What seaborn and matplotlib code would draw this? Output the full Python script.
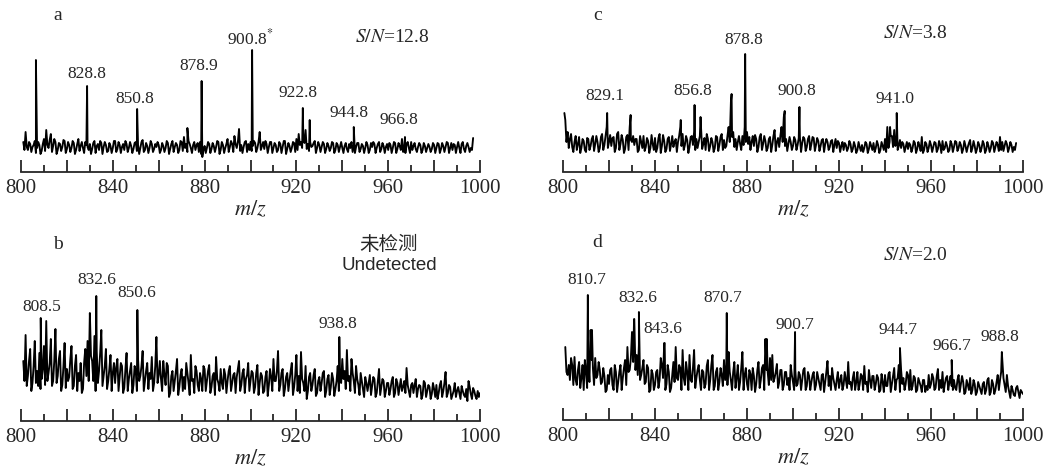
import numpy as np
import pandas as pd
import seaborn as sns
import matplotlib.pyplot as plt
from matplotlib.ticker import MultipleLocator, FuncFormatter

sns.set_style('white')
plt.rcParams['font.family'] = ['Liberation Serif', 'DejaVu Serif']
plt.rcParams['mathtext.fontset'] = 'stix'

# noise (height above axis)
# noise_* lists: samples at 801, 802, ...; *_mid lists: samples at 801.5, 802.5, ...
noise_a = [30, 40, 22, 28, 25, 31, 24, 27, 21, 33,
           42, 24, 38, 26, 30, 22, 28, 25, 31, 23,
           27, 24, 29, 22, 33, 26, 24, 30, 25, 28,
           23, 31, 26, 22, 29, 25, 27, 21, 26, 24,
           31, 23, 27, 25, 22, 28, 24, 26, 23, 30,
           27, 24, 32, 22, 26, 24, 28, 23, 25, 27,
           22, 26, 24, 29, 23, 31, 25, 27, 22, 30,
           35, 28, 31, 24, 27, 22, 29, 30, 15, 26,
           24, 28, 23, 26, 25, 30, 22, 27, 24, 33,
           25, 28, 36, 24, 43, 27, 25, 31, 28, 30,
           26, 29, 24, 40, 26, 23, 28, 25, 30, 24,
           27, 22, 28, 25, 31, 23, 26, 24, 29, 33,
           38, 30, 35, 42, 28, 30, 26, 31, 24, 27,
           25, 28, 23, 26, 24, 29, 22, 27, 25, 24,
           26, 23, 28, 30, 27, 25, 29, 23, 26, 24,
           27, 22, 25, 28, 24, 30, 23, 26, 25, 22,
           27, 24, 29, 23, 26, 33, 25, 28, 24, 30,
           26, 23, 25, 27, 22, 26, 24, 25, 23, 27,
           24, 28, 23, 26, 25, 29, 24, 22, 27, 25,
           24, 28, 23, 26, 25, 24, 34]
noise_a_mid = [22, 25, 30, 20, 27, 19, 30, 18, 28, 21,
               27, 32, 20, 33, 18, 29, 21, 32, 19, 30,
               20, 31, 18, 28, 21, 30, 19, 27, 22, 18,
               29, 19, 28, 31, 18, 30, 20, 29, 19, 31,
               20, 30, 19, 28, 31, 20, 30, 19, 29, 21,
               18, 30, 20, 29, 19, 31, 20, 28, 30, 19,
               29, 20, 31, 18, 28, 20, 29, 19, 31, 21,
               24, 20, 28, 19, 30, 27, 20, 18, 22, 19,
               30, 19, 29, 20, 31, 18, 30, 19, 28, 20,
               31, 20, 28, 30, 21, 19, 30, 20, 22, 21,
               31, 20, 30, 22, 30, 31, 19, 30, 19, 29,
               20, 30, 19, 31, 18, 29, 20, 30, 20, 22,
               27, 24, 29, 23, 21, 25, 29, 19, 30, 20,
               30, 19, 29, 21, 30, 19, 29, 20, 30, 19,
               29, 20, 24, 20, 19, 29, 20, 28, 19, 30,
               19, 29, 30, 19, 28, 20, 29, 19, 28, 29,
               19, 30, 19, 29, 22, 20, 19, 30, 19, 22,
               29, 20, 29, 19, 29, 20, 28, 20, 29, 19,
               29, 19, 29, 20, 30, 19, 29, 28, 19, 30,
               19, 30, 20, 29, 20, 22]
peak_mz_a = [806.5, 828.8, 850.6, 872.5, 878.7, 900.7, 922.8, 925.8, 945.0, 967.3]
peak_int_a = [112, 86, 63, 44, 91, 122, 64, 52, 45, 35]

noise_b = [60, 86, 45, 72, 38, 80, 50, 68, 42, 75,
           100, 48, 82, 40, 92, 45, 70, 36, 78, 52,
           44, 75, 35, 66, 48, 58, 32, 72, 80, 108,
           60, 85, 70, 50, 91, 45, 72, 40, 66, 48,
           38, 62, 44, 55, 33, 68, 42, 58, 36, 50,
           62, 45, 70, 40, 58, 48, 64, 38, 84, 46,
           42, 60, 36, 55, 28, 50, 40, 62, 34, 52,
           44, 58, 38, 66, 42, 55, 36, 48, 30, 52,
           40, 56, 34, 48, 64, 38, 52, 32, 46, 40,
           55, 38, 48, 44, 60, 36, 52, 42, 58, 40,
           48, 34, 56, 38, 45, 30, 50, 36, 44, 62,
           40, 70, 36, 52, 32, 48, 40, 58, 34, 66,
           45, 69, 38, 55, 30, 48, 36, 52, 28, 44,
           38, 50, 30, 46, 34, 42, 32, 55, 48, 62,
           50, 71, 45, 62, 40, 55, 36, 48, 32, 44,
           30, 46, 35, 42, 28, 52, 34, 40, 30, 38,
           32, 44, 28, 38, 34, 30, 40, 53, 30, 36,
           28, 42, 32, 35, 26, 38, 30, 34, 27, 32,
           36, 28, 40, 30, 49, 28, 34, 26, 38, 30,
           28, 35, 26, 32, 40, 27, 33, 25, 30, 28]
noise_b_mid = [40, 35, 60, 30, 55, 38, 35, 32, 52, 36,
               40, 58, 35, 60, 38, 62, 30, 55, 33, 40,
               62, 32, 55, 30, 40, 28, 58, 45, 40, 65,
               40, 30, 38, 68, 35, 55, 32, 52, 30, 58,
               54, 30, 58, 28, 52, 30, 50, 28, 55, 30,
               40, 55, 30, 50, 32, 42, 30, 55, 38, 60,
               30, 46, 58, 24, 45, 30, 50, 26, 46, 30,
               32, 48, 26, 40, 28, 50, 30, 42, 55, 30,
               50, 28, 45, 26, 42, 30, 38, 52, 28, 50,
               30, 46, 28, 52, 30, 48, 28, 46, 30, 50,
               28, 48, 26, 48, 28, 44, 25, 52, 30, 40,
               50, 30, 48, 25, 44, 30, 50, 26, 46, 30,
               28, 42, 30, 22, 44, 30, 46, 25, 40, 30,
               48, 24, 42, 26, 48, 25, 40, 30, 38, 42,
               32, 40, 30, 48, 28, 42, 26, 40, 24, 38,
               38, 26, 44, 24, 40, 26, 42, 24, 38, 26,
               40, 24, 42, 26, 42, 34, 28, 36, 24, 38,
               36, 24, 36, 22, 40, 24, 36, 22, 38, 24,
               22, 36, 24, 38, 24, 36, 22, 30, 24, 34,
               22, 30, 24, 20, 34, 22, 30, 22, 24]
peak_mz_b = [808.6, 832.8, 850.7, 938.7]
peak_int_b = [103, 125, 111, 84]

noise_c = [52, 40, 33, 25, 30, 22, 35, 24, 31, 20,
           33, 26, 36, 28, 30, 24, 38, 27, 45, 30,
           26, 35, 24, 40, 28, 32, 23, 37, 45, 30,
           27, 33, 22, 30, 36, 25, 31, 24, 28, 34,
           24, 38, 26, 31, 23, 35, 28, 25, 33, 30,
           45, 38, 27, 32, 25, 36, 40, 33, 30, 45,
           28, 22, 33, 26, 30, 24, 35, 27, 38, 32,
           26, 45, 70, 40, 33, 30, 28, 36, 45, 40,
           35, 30, 26, 33, 25, 38, 28, 31, 24, 35,
           27, 42, 30, 25, 45, 55, 33, 28, 30, 26,
           32, 27, 35, 29, 33, 25, 36, 28, 34, 27,
           31, 26, 33, 28, 30, 25, 32, 27, 24, 29,
           26, 22, 27, 24, 28, 23, 26, 22, 25, 27,
           24, 28, 23, 26, 29, 24, 27, 22, 26, 33,
           45, 30, 36, 42, 30, 26, 24, 28, 25, 23,
           27, 24, 29, 23, 26, 35, 22, 28, 24, 27,
           25, 29, 23, 27, 31, 24, 26, 22, 28, 25,
           30, 24, 27, 23, 26, 25, 32, 24, 26, 23,
           27, 24, 28, 22, 26, 24, 29, 25, 27, 35,
           30, 26, 28, 24, 27, 25, 29]
noise_c_mid = [30, 24, 38, 20, 36, 28, 19, 33, 22, 34,
               22, 33, 21, 36, 20, 35, 22, 36, 24, 37,
               34, 20, 38, 22, 37, 19, 35, 22, 32, 36,
               33, 20, 36, 24, 21, 34, 19, 37, 22, 20,
               34, 19, 37, 20, 33, 21, 36, 30, 20, 36,
               26, 22, 36, 19, 35, 27, 22, 24, 36, 23,
               34, 38, 21, 34, 20, 36, 21, 35, 22, 24,
               36, 30, 35, 25, 22, 36, 22, 27, 30, 28,
               22, 36, 37, 20, 35, 22, 36, 21, 33, 20,
               36, 21, 34, 36, 30, 26, 21, 35, 22, 35,
               22, 34, 20, 35, 21, 33, 22, 35, 21, 34,
               21, 32, 20, 33, 22, 31, 20, 33, 31, 20,
               30, 29, 21, 31, 20, 30, 19, 30, 21, 20,
               30, 19, 30, 22, 20, 31, 19, 30, 22, 20,
               24, 36, 25, 26, 22, 32, 30, 20, 30, 29,
               20, 31, 19, 30, 21, 19, 30, 20, 31, 20,
               30, 20, 31, 19, 22, 30, 20, 31, 20, 31,
               21, 30, 19, 31, 20, 29, 20, 31, 19, 30,
               20, 31, 19, 30, 20, 31, 20, 30, 21, 22,
               21, 31, 20, 30, 20, 22]
peak_mz_c = [800.6, 819.2, 829.4, 851.2, 857.2, 859.8, 873.3, 879.2, 896.4, 902.8, 942.2, 945.1]
peak_int_c = [59, 59, 57, 52, 67, 55, 78, 118, 61, 65, 45, 59]

noise_d = [73, 45, 40, 55, 63, 35, 58, 42, 30, 48,
           60, 90, 52, 62, 45, 50, 38, 44, 30, 36,
           52, 30, 48, 38, 55, 42, 60, 73, 50, 88,
           101, 65, 75, 45, 60, 38, 52, 30, 46, 35,
           50, 40, 55, 77, 36, 48, 32, 58, 73, 40,
           52, 70, 35, 48, 65, 38, 70, 42, 55, 30,
           48, 36, 60, 40, 65, 34, 52, 38, 45, 60,
           55, 68, 40, 48, 32, 55, 38, 68, 45, 36,
           50, 30, 44, 36, 58, 40, 55, 81, 48, 62,
           65, 42, 56, 38, 50, 35, 48, 42, 55, 38,
           50, 36, 45, 40, 52, 34, 44, 38, 48, 35,
           42, 30, 46, 38, 59, 44, 52, 36, 40, 32,
           45, 35, 40, 58, 38, 42, 30, 48, 36, 44,
           54, 38, 50, 32, 44, 36, 42, 30, 38, 45,
           34, 48, 36, 52, 40, 55, 50, 42, 36, 45,
           50, 34, 42, 30, 38, 28, 40, 34, 45, 36,
           42, 32, 51, 40, 48, 36, 44, 38, 34, 40,
           30, 45, 36, 38, 28, 35, 42, 30, 36, 28,
           34, 26, 38, 30, 42, 28, 36, 30, 45, 40,
           60, 35, 45, 28, 34, 25, 32, 28, 30, 26]
noise_d_mid = [48, 55, 62, 35, 40, 50, 32, 55, 60, 32,
               38, 60, 35, 42, 58, 36, 52, 28, 45, 50,
               35, 55, 28, 48, 30, 52, 35, 48, 62, 58,
               50, 45, 40, 52, 36, 55, 28, 50, 30, 48,
               32, 62, 42, 30, 55, 28, 45, 38, 42, 55,
               30, 42, 58, 30, 40, 52, 32, 50, 40, 50,
               32, 54, 30, 55, 30, 48, 30, 52, 34, 40,
               35, 48, 30, 58, 42, 30, 52, 30, 52, 30,
               46, 52, 28, 50, 32, 52, 30, 50, 35, 40,
               38, 48, 32, 50, 30, 48, 35, 30, 45, 30,
               34, 48, 30, 50, 30, 48, 30, 45, 30, 48,
               36, 45, 28, 48, 34, 30, 42, 30, 48, 40,
               30, 48, 32, 36, 30, 48, 38, 30, 46, 30,
               36, 28, 40, 44, 30, 45, 28, 46, 28, 34,
               46, 28, 44, 30, 42, 28, 36, 30, 48, 30,
               30, 44, 28, 42, 34, 40, 28, 30, 32, 46,
               30, 44, 30, 32, 28, 42, 30, 44, 30, 32,
               40, 28, 44, 26, 40, 30, 26, 40, 25, 38,
               30, 36, 26, 40, 25, 40, 26, 38, 30, 48,
               42, 28, 34, 22, 30, 24, 34, 22, 28]
peak_mz_d = [810.8, 812.6, 830.9, 833.0, 844.2, 871.2, 888.6, 900.9, 946.5, 969.0, 990.8]
peak_int_d = [125, 90, 101, 108, 77, 107, 81, 88, 72, 60, 68]

# peak annotations: text, x (m/z), y
labels_a = [('828.8', 828.8, 98), ('850.8', 849.7, 73), ('878.9', 877.6, 106),
            ('900.8$^{*}$', 900.0, 134), ('922.8', 920.7, 79), ('944.8', 942.9, 59),
            ('966.8', 964.7, 52)]
labels_b = [('808.5', 809.2, 114), ('832.6', 833.1, 141), ('850.6', 850.5, 128),
            ('938.8', 938.1, 97)]
labels_c = [('829.1', 818.3, 76), ('856.8', 856.5, 81), ('878.8', 878.7, 132),
            ('900.8', 901.7, 81), ('941.0', 944.3, 73)]
labels_d = [('810.7', 810.4, 140), ('832.6', 832.6, 122), ('843.6', 843.5, 91),
            ('870.7', 869.6, 122), ('900.7', 900.9, 95), ('944.7', 945.7, 90),
            ('966.7', 969.1, 74), ('988.8', 990.0, 83)]

W, H = 1059, 467
fig = plt.figure(figsize=(W / 100, H / 100), dpi=100)


def make_ax(left, axis_y, width, top):
    return fig.add_axes([left / W, (H - axis_y) / H, width / W, top / H])


def spectrum(ax, noise, noise_mid, pk_mz, pk_int, top):
    mz = np.concatenate([np.arange(801, 801 + len(noise)),
                         np.arange(801.5, 801.5 + len(noise_mid)), pk_mz])
    inten = np.concatenate([noise, noise_mid, pk_int])
    df = pd.DataFrame({'mz': mz, 'intensity': inten}).sort_values('mz')
    sns.lineplot(data=df, x='mz', y='intensity', ax=ax, color='black',
                 lw=1.35, estimator=None, sort=True, legend=False)
    ax.set_xlim(800, 1000)
    ax.set_ylim(0, top)
    for s in ['top', 'left', 'right']:
        ax.spines[s].set_visible(False)
    ax.spines['bottom'].set_linewidth(1.3)
    ax.set_yticks([])
    ax.set_ylabel('')
    ax.xaxis.set_major_locator(MultipleLocator(20))
    ax.xaxis.set_minor_locator(MultipleLocator(10))
    ax.xaxis.set_major_formatter(FuncFormatter(lambda v, p: f'{v:.0f}' if v % 40 == 0 else ''))
    ax.tick_params(axis='x', which='major', direction='in', length=9, width=1.3,
                   labelsize=15, pad=5, bottom=True)
    ax.tick_params(axis='x', which='minor', direction='in', length=5, width=1.3,
                   bottom=True)
    ax.set_xlabel('$m/z$', fontsize=16, labelpad=1)
    ax.patch.set_alpha(0)


def annotate(ax, labels):
    for s, x, y in labels:
        ax.text(x, y, s, ha='center', va='center', fontsize=12.5, clip_on=False)


ax_a = make_ax(21, 172, 459, 160)
spectrum(ax_a, noise_a, noise_a_mid, peak_mz_a, peak_int_a, 160)
annotate(ax_a, labels_a)
ax_a.text(816, 156, 'a', fontsize=14, ha='center', va='center')
ax_a.text(945.5, 135, '$S/N$=12.8', fontsize=14, ha='left', va='center')

ax_c = make_ax(563, 172, 460, 160)
spectrum(ax_c, noise_c, noise_c_mid, peak_mz_c, peak_int_c, 160)
annotate(ax_c, labels_c)
ax_c.text(815, 156, 'c', fontsize=14, ha='center', va='center')
ax_c.text(939, 139, '$S/N$=3.8', fontsize=14, ha='left', va='center')

ax_b = make_ax(21, 421, 459, 190)
spectrum(ax_b, noise_b, noise_b_mid, peak_mz_b, peak_int_b, 190)
annotate(ax_b, labels_b)
ax_b.text(816, 176, 'b', fontsize=14, ha='center', va='center')
ax_b.text(960, 176, '未检测', fontsize=14, ha='center', va='center',
          family=['Noto Sans CJK SC', 'DejaVu Sans'])
ax_b.text(960.5, 156, 'Undetected', fontsize=13.5, ha='center', va='center',
          family=['Liberation Sans', 'DejaVu Sans'])

ax_d = make_ax(563, 420, 460, 190)
spectrum(ax_d, noise_d, noise_d_mid, peak_mz_d, peak_int_d, 190)
annotate(ax_d, labels_d)
ax_d.text(815, 177, 'd', fontsize=14, ha='center', va='center')
ax_d.text(939, 165, '$S/N$=2.0', fontsize=14, ha='left', va='center')

fig.savefig('out.png', dpi=100, facecolor='white')
